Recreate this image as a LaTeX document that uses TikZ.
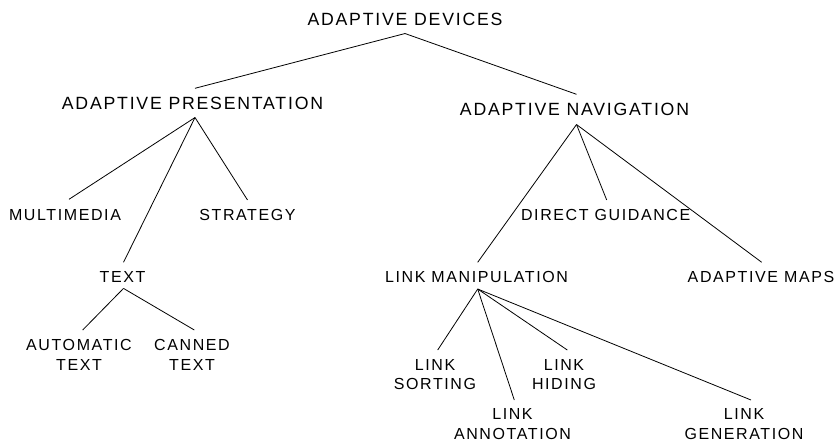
\documentclass[tikz,border=0pt]{standalone}
\usepackage{fontspec}
\setmainfont{Liberation Sans}[LetterSpace=10]
\begin{document}
\begin{tikzpicture}[x=1pt,y=-1pt,
  lbl/.style={inner sep=0pt, anchor=north, align=center,
              font=\fontsize{16}{19.5}\selectfont},
  toplbl/.style={lbl, font=\fontsize{17.7}{21}\selectfont},
  edge/.style={line width=0.8pt, black}]
\useasboundingbox[fill=white] (0,0) rectangle (836,443);

% level 0
\node[toplbl] (root) at (405,13)    {ADAPTIVE DEVICES};
% level 1
\node[toplbl] (pres) at (192.5,97.3) {ADAPTIVE PRESENTATION};
\node[toplbl] (nav)  at (574.5,103)  {ADAPTIVE NAVIGATION};
% level 2
\node[lbl] (mm)    at (65,209.2)    {MULTIMEDIA};
\node[lbl] (strat) at (247.5,209.2) {STRATEGY};
\node[lbl] (dg)    at (605.7,209.2) {DIRECT GUIDANCE};
% level 3
\node[lbl] (text) at (122.5,271) {TEXT};
\node[lbl] (lm)   at (476.5,271) {LINK MANIPULATION};
\node[lbl] (maps) at (761,271)   {ADAPTIVE MAPS};
% level 4
\node[lbl] (auto)   at (79,339.2)    {AUTOMATIC\\TEXT};
\node[lbl] (canned) at (192,339.2)   {CANNED\\TEXT};
\node[lbl] (sort)   at (435,359.2)   {LINK\\SORTING};
\node[lbl] (hide)   at (564,359.2)   {LINK\\HIDING};
\node[lbl] (annot)  at (512.5,408.5) {LINK\\ANNOTATION};
\node[lbl] (gen)    at (744,408.5)   {LINK\\GENERATION};

% connectors: from just below the parent to just above the child
\draw[edge] ([yshift=-7.6pt]root.south) -- ([yshift=9pt,xshift=2.5pt]pres.north);
\draw[edge] ([yshift=-7.6pt]root.south) -- ([yshift=8.7pt,xshift=2pt]nav.north);

\draw[edge] ([yshift=-7.3pt,xshift=2.5pt]pres.south) -- ([yshift=9.9pt,xshift=4pt]mm.north);
\draw[edge] ([yshift=-7.3pt,xshift=2.5pt]pres.south) -- ([yshift=9.2pt]strat.north);
\draw[edge] ([yshift=-7.3pt,xshift=2.5pt]pres.south) -- ([yshift=8.7pt,xshift=1pt]text.north);

\draw[edge] ([yshift=-6pt,xshift=1pt]text.south) -- ([yshift=9.2pt,xshift=3.7pt]auto.north);
\draw[edge] ([yshift=-6pt,xshift=1pt]text.south) -- ([yshift=9.2pt,xshift=2.3pt]canned.north);

\draw[edge] ([yshift=-8.6pt,xshift=2pt]nav.south) -- ([yshift=9.2pt,xshift=1pt]dg.north);
\draw[edge] ([yshift=-8.6pt,xshift=2pt]nav.south) -- ([yshift=8.7pt,xshift=1.2pt]lm.north);
\draw[edge] ([yshift=-8.6pt,xshift=2pt]nav.south) -- ([yshift=8.7pt,xshift=0.7pt]maps.north);

\draw[edge] ([yshift=-6.3pt,xshift=1.2pt]lm.south) -- ([yshift=9.2pt,xshift=2.7pt]sort.north);
\draw[edge] ([yshift=-6.3pt,xshift=1.2pt]lm.south) -- ([yshift=8.5pt,xshift=1.8pt]annot.north);
\draw[edge] ([yshift=-6.3pt,xshift=1.2pt]lm.south) -- ([yshift=9.2pt,xshift=3.3pt]hide.north);
\draw[edge] ([yshift=-6.3pt,xshift=1.2pt]lm.south) -- ([yshift=8.5pt,xshift=7pt]gen.north);
\end{tikzpicture}
\end{document}
